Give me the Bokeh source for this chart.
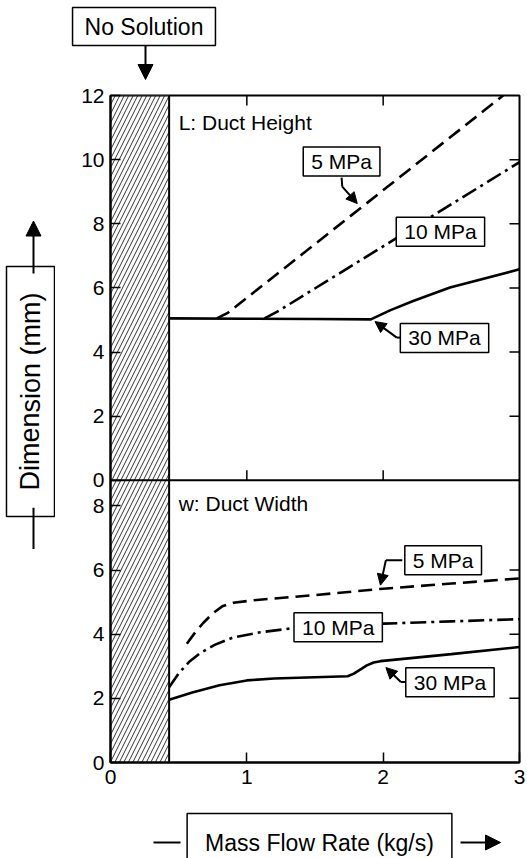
from bokeh.plotting import figure
from bokeh.layouts import column, row
from bokeh.models import Range1d, LinearAxis, FixedTicker, Span, Label, Arrow, NormalHead
from bokeh.embed import file_html
from bokeh.resources import INLINE

# ---------------- data ----------------
x_ticks = [0, 1, 2, 3]
y_ticks_top = [0, 2, 4, 6, 8, 10, 12]
y_ticks_bottom = [0, 2, 4, 6, 8]
no_solution_limit = 0.43
YB = 8.8     # bottom panel (w) upper limit
YT = 12.0    # top panel (L) upper limit

# L: Duct Height
L_5_x = [0.78, 0.86, 2.88]
L_5_y = [5.05, 5.22, 12.0]
L_10_x = [1.13, 1.22, 3.0]
L_10_y = [5.05, 5.25, 9.92]
L_30_x = [0.43, 1.0, 1.5, 1.91, 2.05, 2.22, 2.49, 3.0]
L_30_y = [5.05, 5.04, 5.03, 5.02, 5.30, 5.59, 6.01, 6.58]

# w: Duct Width
w_5_x = [0.56, 0.62, 0.68, 0.75, 0.82, 0.90, 1.05, 1.5, 2.0, 2.5, 3.0]
w_5_y = [3.70, 4.05, 4.35, 4.65, 4.87, 4.98, 5.06, 5.22, 5.42, 5.58, 5.74]
w_10_x = [0.43, 0.5, 0.58, 0.66, 0.76, 0.9, 1.1, 1.32, 1.6, 2.0, 2.5, 3.0]
w_10_y = [2.35, 2.78, 3.15, 3.42, 3.66, 3.90, 4.06, 4.18, 4.25, 4.33, 4.40, 4.47]
w_30_x = [0.43, 0.6, 0.8, 1.0, 1.2, 1.5, 1.74, 1.785, 1.84, 1.88, 1.93, 1.98, 2.5, 3.0]
w_30_y = [1.96, 2.18, 2.41, 2.56, 2.62, 2.66, 2.69, 2.77, 2.92, 3.03, 3.12, 3.16, 3.38, 3.60]

FONT = "Liberation Sans"
TOTAL_W = 527
LEFT_W = 55
TOP_H = 83
MAIN_H = 712
BOTTOM_H = 63
BORDER_L, BORDER_R, BORDER_T, BORDER_B = 55, 8, 12, 33
FRAME_W = TOTAL_W - LEFT_W - BORDER_L - BORDER_R
FRAME_H = MAIN_H - BORDER_T - BORDER_B
TICK_PX = 10

# ---------------- main chart ----------------
p = figure(width=TOTAL_W - LEFT_W, height=MAIN_H, x_range=Range1d(0, 3), y_range=Range1d(0, YB + YT),
           output_backend="svg", toolbar_location=None,
           x_axis_location=None, y_axis_location=None,
           min_border_left=BORDER_L, min_border_right=BORDER_R,
           min_border_top=BORDER_T, min_border_bottom=BORDER_B)
p.extra_y_ranges = {"top": Range1d(-YB, YT)}
p.grid.visible = False
p.outline_line_color = "black"
p.outline_line_width = 2
p.background_fill_color = "white"
p.border_fill_color = "white"


def style(ax):
    ax.major_tick_in = TICK_PX
    ax.major_tick_out = 0
    ax.minor_tick_in = 0
    ax.minor_tick_out = 0
    ax.major_tick_line_width = 1.5
    ax.major_tick_line_color = "black"
    ax.axis_line_width = 2
    ax.axis_line_color = "black"
    ax.major_label_text_font = FONT
    ax.major_label_text_color = "black"
    ax.major_label_text_font_size = "21px"


ax_b = LinearAxis(ticker=FixedTicker(ticks=x_ticks, minor_ticks=[]))
style(ax_b)
ax_b.major_label_standoff = 7
p.add_layout(ax_b, "below")

left_ticks = list(y_ticks_bottom) + [YB + t for t in y_ticks_top]
overrides = {float(t): str(t) for t in y_ticks_bottom}
overrides.update({YB + t: str(t) for t in y_ticks_top})
ax_l = LinearAxis(ticker=FixedTicker(ticks=left_ticks, minor_ticks=[]))
style(ax_l)
ax_l.major_label_overrides = overrides
ax_l.major_label_standoff = 6
p.add_layout(ax_l, "left")

px_x = FRAME_W / 3.0
px_y = FRAME_H / (YB + YT)

# hatched "no solution" zone
p.quad(left=[0], right=[no_solution_limit], bottom=[0], top=[YB + YT],
       fill_color="white", hatch_pattern="/", hatch_scale=9, hatch_weight=1,
       hatch_color="#333333", line_color="black", line_width=2)

# inward ticks on the right and top edges and on the panel separator
right_ticks = [t for t in y_ticks_bottom[1:-1]] + [YB + t for t in y_ticks_top[1:-1]]
p.segment(x0=[3] * len(right_ticks), x1=[3 - TICK_PX / px_x] * len(right_ticks),
          y0=right_ticks, y1=right_ticks, line_color="black", line_width=1.5)
inner_x = x_ticks[1:3]
p.segment(x0=inner_x, x1=inner_x, y0=[YB + YT] * 2, y1=[YB + YT - TICK_PX / px_y] * 2,
          line_color="black", line_width=1.5)
p.segment(x0=inner_x, x1=inner_x, y0=[YB] * 2, y1=[YB + TICK_PX / px_y] * 2,
          line_color="black", line_width=1.5)
p.add_layout(Span(location=0, dimension="width", y_range_name="top",
                  line_color="black", line_width=2))

LW = 2.6
DASH = "14 7"
DASHDOT = "16 5 3 5"
p.line(L_5_x, L_5_y, y_range_name="top", line_color="black", line_width=LW, line_dash=DASH)
p.line(L_10_x, L_10_y, y_range_name="top", line_color="black", line_width=LW, line_dash=DASHDOT)
p.line(L_30_x, L_30_y, y_range_name="top", line_color="black", line_width=LW)
p.line(w_5_x, w_5_y, line_color="black", line_width=LW, line_dash=DASH)
p.line(w_10_x, w_10_y, line_color="black", line_width=LW, line_dash=DASHDOT)
p.line(w_30_x, w_30_y, line_color="black", line_width=LW)


def boxlabel(fig, x, y, text, rng="default", size="21px", pad=(8, 3), angle=0.0):
    fig.add_layout(Label(x=x, y=y, text=text, y_range_name=rng, text_font=FONT,
                         text_font_size=size, text_align="center", text_baseline="middle",
                         text_color="black", background_fill_color="white",
                         border_line_color="black", border_line_width=1.5,
                         padding=pad, angle=angle))


def plain(fig, x, y, text, rng="default", size="21px"):
    fig.add_layout(Label(x=x, y=y, text=text, y_range_name=rng, text_font=FONT,
                         text_font_size=size, text_align="left", text_baseline="middle",
                         text_color="black"))


def seg(fig, x0, y0, x1, y1, rng="default", head=0):
    end = NormalHead(size=head, fill_color="black", line_color="black", line_width=1) if head else None
    fig.add_layout(Arrow(x_start=x0, y_start=y0, x_end=x1, y_end=y1, end=end,
                         line_color="black", line_width=2, y_range_name=rng))


# panel titles
plain(p, 0.5, 11.16, "L: Duct Height", rng="top")
plain(p, 0.5, 8.09, "w: Duct Width")

# top panel callouts
seg(p, 1.695, 9.44, 1.70, 9.16, "top")
seg(p, 1.70, 9.16, 1.81, 8.63, "top", head=11)
boxlabel(p, 1.695, 9.94, "5 MPa", rng="top")
boxlabel(p, 2.42, 7.75, "10 MPa", rng="top")
seg(p, 2.14, 4.45, 2.10, 4.45, "top")
seg(p, 2.10, 4.45, 1.94, 4.95, "top", head=11)
boxlabel(p, 2.45, 4.44, "30 MPa", rng="top")

# bottom panel callouts
seg(p, 2.14, 6.31, 2.02, 6.31)
seg(p, 2.02, 6.31, 1.98, 5.53, head=11)
boxlabel(p, 2.44, 6.31, "5 MPa")
boxlabel(p, 1.67, 4.22, "10 MPa")
seg(p, 2.18, 2.51, 2.13, 2.51)
seg(p, 2.13, 2.51, 2.02, 2.96, head=11)
boxlabel(p, 2.49, 2.5, "30 MPa")


# ---------------- strips around the chart (pixel-like ranges) ----------------
def strip(w, h):
    f = figure(width=w, height=h, x_range=Range1d(0, w), y_range=Range1d(h, 0),
               output_backend="svg", toolbar_location=None,
               x_axis_location=None, y_axis_location=None, min_border=0)
    f.grid.visible = False
    f.outline_line_color = None
    f.background_fill_color = "white"
    f.border_fill_color = "white"
    return f


top = strip(TOTAL_W, TOP_H)
boxlabel(top, 143.5, 26, "No Solution", size="23px", pad=(12, 6))
seg(top, 145, 45, 145, 79, head=15)

left = strip(LEFT_W, MAIN_H)
boxlabel(left, 30, 316, "Dimension (mm)", size="27px", pad=(26, 9), angle=1.5707963)
seg(left, 33, 190, 33, 134, head=15)
seg(left, 33, 440, 33, 484)

bottom = strip(TOTAL_W, BOTTOM_H)
boxlabel(bottom, 319, 47, "Mass Flow Rate (kg/s)", size="23px", pad=(18, 16))
seg(bottom, 153, 47, 180, 47)
seg(bottom, 460, 47, 500, 47, head=15)

layout = column(top, row(left, p), bottom)
open("out.html", "w").write(file_html(layout, INLINE))
